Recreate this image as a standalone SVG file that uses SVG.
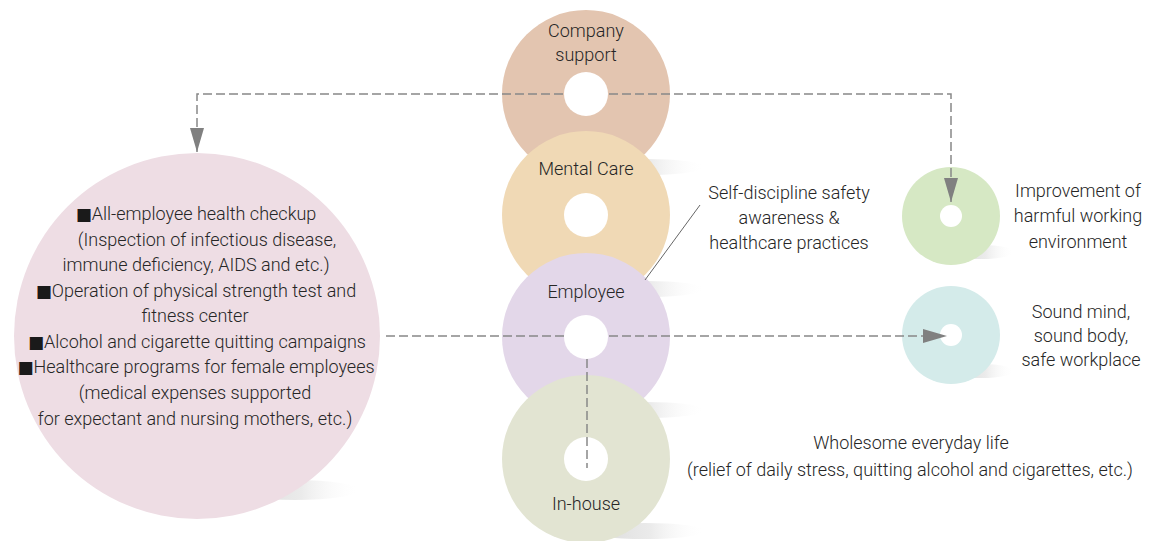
<svg xmlns="http://www.w3.org/2000/svg" width="1149" height="541" viewBox="0 0 1149 541">
  <style>
    text { font-family: Roboto, "Liberation Sans", sans-serif; font-size: 18px; font-weight: 300; fill: #262626; text-anchor: middle; }
    .lbl { font-size: 18px; }
    .sq { font-family: "DejaVu Sans", sans-serif; font-size: 17px; font-weight: normal; fill: #1a1a1a; }
    .hole { fill: #ffffff; }
    .dash { fill: none; stroke: #888888; stroke-width: 1.5; stroke-dasharray: 9 4; }
    .lead { fill: none; stroke: #666666; stroke-width: 1; }
  </style>
  <defs>
    <linearGradient id="sh" x1="0" y1="0" x2="1" y2="0">
      <stop offset="0" stop-color="#d9d9d9"/>
      <stop offset="0.55" stop-color="#ebebeb"/>
      <stop offset="1" stop-color="#ffffff" stop-opacity="0"/>
    </linearGradient>
    <marker id="ah" viewBox="0 0 24 14" refX="24" refY="7" markerWidth="24" markerHeight="14" markerUnits="userSpaceOnUse" orient="auto">
      <path d="M0,0 L24,7 L0,14 Z" fill="#808080"/>
    </marker>
  </defs>

  <g id="shadows">
    <ellipse cx="645" cy="167" rx="60" ry="8" fill="url(#sh)"/>
    <ellipse cx="645" cy="289" rx="60" ry="8" fill="url(#sh)"/>
    <ellipse cx="645" cy="410" rx="60" ry="8" fill="url(#sh)"/>
    <ellipse cx="645" cy="531" rx="60" ry="8" fill="url(#sh)"/>
    <ellipse cx="295" cy="490" rx="65" ry="10" fill="url(#sh)"/>
    <ellipse cx="982" cy="252" rx="32" ry="7" fill="url(#sh)"/>
    <ellipse cx="982" cy="371" rx="32" ry="7" fill="url(#sh)"/>
  </g>

  <g id="company-support">
    <circle cx="586" cy="94" r="84" fill="#e3c5b0"/>
    <circle class="hole" cx="586" cy="94" r="22"/>
    <text class="lbl" x="586" y="37">Company</text>
    <text class="lbl" x="586" y="61">support</text>
  </g>
  <g id="mental-care">
    <circle cx="586" cy="215" r="84" fill="#f0d9b5"/>
    <circle class="hole" cx="586" cy="215" r="22"/>
    <text class="lbl" x="586" y="175">Mental Care</text>
  </g>
  <g id="employee">
    <circle cx="586" cy="337" r="84" fill="#e3d7e9"/>
    <circle class="hole" cx="586" cy="337" r="22"/>
    <text class="lbl" x="586" y="298">Employee</text>
  </g>
  <g id="in-house">
    <circle cx="586" cy="459" r="84" fill="#e2e4d2"/>
    <circle class="hole" cx="586" cy="459" r="22"/>
    <text class="lbl" x="586" y="510">In-house</text>
  </g>

  <g id="health-programs">
    <circle cx="197" cy="336" r="183" fill="#eedde4"/>
    <text x="196" y="220"><tspan class="sq">■</tspan>All-employee health checkup</text>
    <text x="207" y="246">(Inspection of infectious disease,</text>
    <text x="196" y="271">immune deficiency, AIDS and etc.)</text>
    <text x="196" y="297"><tspan class="sq">■</tspan>Operation of physical strength test and</text>
    <text x="195" y="322">fitness center</text>
    <text x="197" y="348"><tspan class="sq">■</tspan>Alcohol and cigarette quitting campaigns</text>
    <text x="196" y="373"><tspan class="sq">■</tspan>Healthcare programs for female employees</text>
    <text x="195" y="399">(medical expenses supported</text>
    <text x="195" y="425">for expectant and nursing mothers, etc.)</text>
  </g>

  <g id="harmful-environment">
    <circle cx="951" cy="216" r="49" fill="#d6e8c4"/>
    <circle class="hole" cx="951" cy="216" r="11"/>
    <text x="1078" y="197">Improvement of</text>
    <text x="1078" y="222">harmful working</text>
    <text x="1078" y="248">environment</text>
  </g>
  <g id="sound-mind">
    <circle cx="951" cy="335" r="49" fill="#d4ebea"/>
    <circle class="hole" cx="951" cy="335" r="11"/>
    <text x="1081" y="318">Sound mind,</text>
    <text x="1081" y="342">sound body,</text>
    <text x="1081" y="366">safe workplace</text>
  </g>
  <g id="self-discipline">
    <text x="789" y="199">Self-discipline safety</text>
    <text x="789" y="224">awareness &amp;</text>
    <text x="789" y="249">healthcare practices</text>
  </g>
  <g id="wholesome-life">
    <text x="911" y="449">Wholesome everyday life</text>
    <text x="910" y="476">(relief of daily stress, quitting alcohol and cigarettes, etc.)</text>
  </g>

  <g id="connectors">
    <path class="dash" d="M563,94 H197 V152" marker-end="url(#ah)"/>
    <path class="dash" d="M609,94 H951 V202" marker-end="url(#ah)"/>
    <path class="dash" d="M386,336 H564"/>
    <path class="dash" d="M609,336 H947" marker-end="url(#ah)"/>
    <path class="dash" d="M587,359 V468"/>
    <path class="lead" d="M645,280 L700,205"/>
  </g>
</svg>
